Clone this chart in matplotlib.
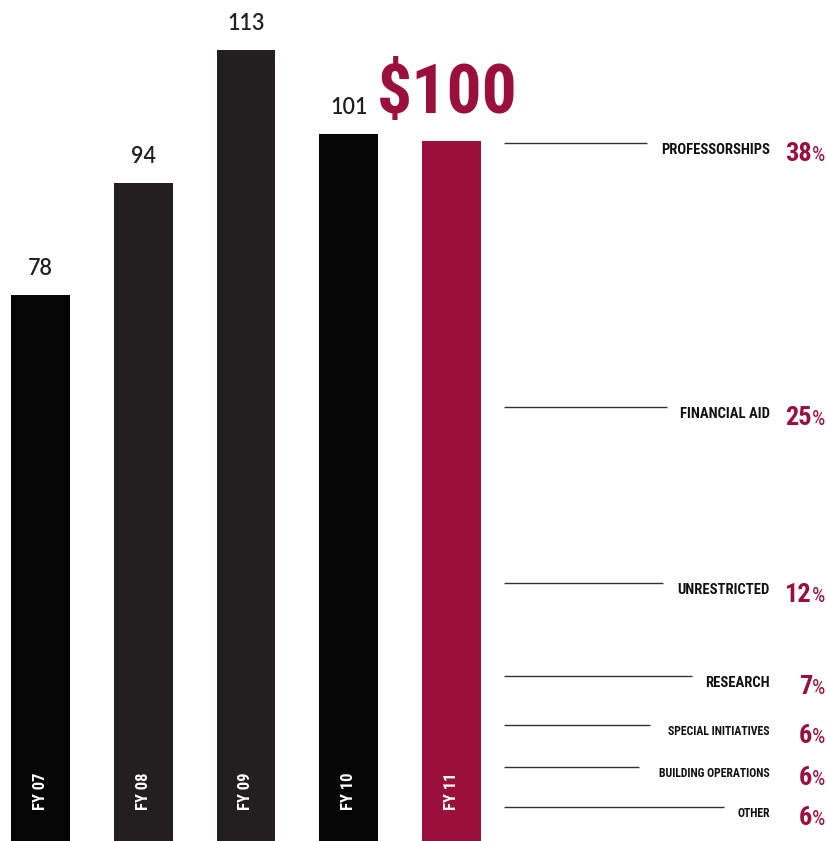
import matplotlib
matplotlib.use("Agg")
import matplotlib.pyplot as plt
from matplotlib.transforms import blended_transform_factory

# gifts by year ($ millions)
years = ["FY 07", "FY 08", "FY 09", "FY 10", "FY 11"]
totals = [78, 94, 113, 101, 100]
bar_colors = ["#050505", "#231f20", "#231f20", "#050505", "#9b0f3b"]

# FY 11 breakdown
purposes = ["PROFESSORSHIPS", "FINANCIAL AID", "UNRESTRICTED", "RESEARCH",
            "SPECIAL INITIATIVES", "BUILDING OPERATIONS", "OTHER"]
shares = [38, 25, 12, 7, 6, 6, 6]

# layout (pixels / value units)
W, H = 826, 841
px_per_unit = 7.0
bar_w = 0.574
line_end_px = [647, 667, 663, 692, 650, 639, 724]
line_nudge = [0.3, 0.0, 0.2, 1.4, 1.4, 1.4, 1.1]
label_size = [10.5, 10.5, 10.5, 10.5, 8.5, 8.5, 8.5]

crimson = "#9b0f3b"
ink = "#231f20"
cond = ["Liberation Sans Narrow", "Roboto Condensed", "DejaVu Sans"]
sans = ["Lato", "DejaVu Sans"]

fig = plt.figure(figsize=(W / 100, H / 100), dpi=100)
ax = fig.add_axes([0, 0, 1, 1])
x0, step = 40.5, 102.75
ax.set_xlim(-x0 / step, (W - x0) / step)
ax.set_ylim(0, H / px_per_unit)
ax.axis("off")

xs = list(range(len(years)))
ax.bar(xs, totals, width=bar_w, color=bar_colors, align="center")

for i, (yr, v) in enumerate(zip(years, totals)):
    ax.text(i, 7.1, yr, rotation=90, color="white", ha="center", va="center",
            fontsize=12, fontweight="bold", family=cond, fontstretch="condensed")
    if i < len(years) - 1:
        ax.text(i, v + 2.9, str(v), ha="center", va="baseline", color=ink,
                fontsize=15.5, fontweight="semibold", family=sans)

ax.text(len(years) - 1 - 0.045, totals[-1] + 4, f"${totals[-1]}", ha="center",
        va="baseline", color=crimson, fontsize=50, fontweight="bold",
        family=cond, fontstretch="condensed")

# leader lines and labels
tr = blended_transform_factory(fig.transFigure, ax.transData)
top = totals[-1]
level = top
for name, s, xe, nd, fs in zip(purposes, shares, line_end_px, line_nudge, label_size):
    y = level - nd
    ax.plot([504 / W, xe / W], [y, y], transform=tr, color="#333333", lw=1.0,
            solid_capstyle="butt")
    ax.text(770 / W, y - 1.0, name, transform=tr, ha="right", va="center",
            color="#111111", fontsize=fs, fontweight="bold", family=cond,
            fontstretch="condensed")
    ax.text(812 / W, y - 2.6, str(s), transform=tr, ha="right", va="baseline",
            color=crimson, fontsize=19, fontweight="bold", family=cond,
            fontstretch="condensed")
    ax.text(812 / W, y - 2.6, "%", transform=tr, ha="left", va="baseline",
            color=crimson, fontsize=15, family=cond, fontstretch="condensed")
    level -= top * s / 100

fig.savefig("out.png", dpi=100, facecolor="white")
